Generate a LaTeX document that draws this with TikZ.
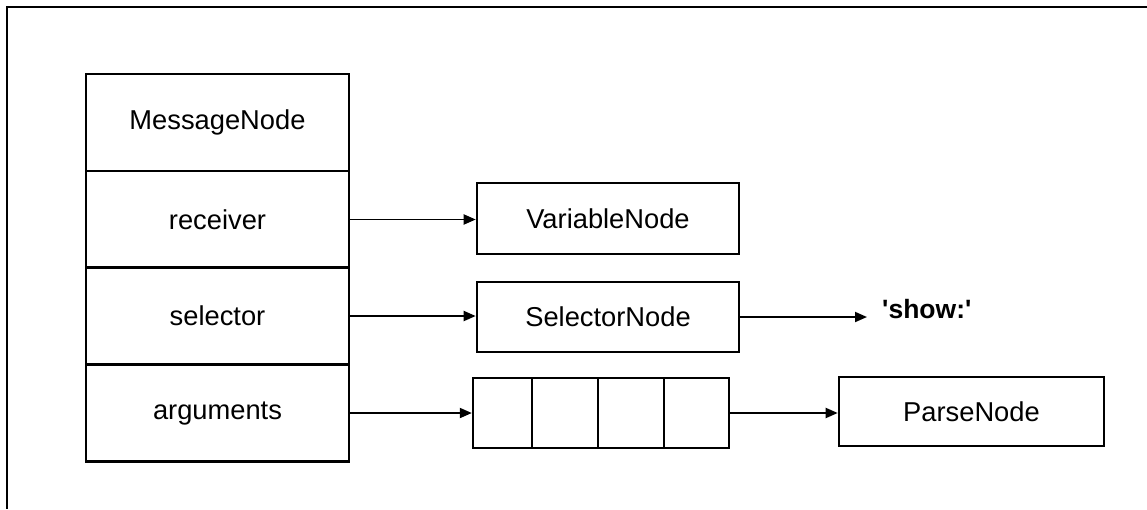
\documentclass[tikz,border=0pt]{standalone}
\usepackage{fontspec}
\setmainfont{Liberation Sans}
% a family without the TeX ligature mapping keeps straight quotes
\newfontfamily\quotefont{Liberation Sans}
\usetikzlibrary{arrows.meta}
\begin{document}
\begin{tikzpicture}[x=1pt,y=-1pt,
  every node/.style={font=\fontsize{27.3}{32}\selectfont},
  cell/.style={draw=black,line width=2.6pt,rectangle,inner sep=0pt,anchor=center},
  row/.style={cell,minimum width=263pt,minimum height=97pt},
  objbox/.style={cell,minimum width=262pt,minimum height=70pt},
  slot/.style={draw=black,line width=2.4pt,rectangle,inner sep=0pt,minimum height=70pt},
  link/.style={line width=1.9pt,-{Triangle[length=12pt,width=10pt]}},
  frameline/.style={line width=2pt}]
\useasboundingbox (0,0) rectangle (1147,509);

% outer frame (top and left edges only)
\coordinate (ftl) at (7,6.5);
\coordinate (ftr) at (1147,6.5);
\coordinate (fbl) at (7,509);
\draw[frameline] (ftr) -- (ftl) -- (fbl);

% MessageNode record
\node[row] (msg) at (217.5,122.5) {MessageNode};
\node[row] (recv) at (217.5,219.5) {receiver};
\node[row] (selr) at (217.5,316) {selector};
\node[row] (args) at (217.5,413) {arguments};

% referenced nodes
\node[objbox,minimum height=71pt] (var) at (608,218.5) {VariableNode};
\node[objbox] (sel) at (608,317) {SelectorNode};
\node[objbox,minimum width=265pt,minimum height=69pt] (parse) at (971.5,411.5) {ParseNode};
\node[inner sep=0pt,anchor=west,font=\fontsize{26.5}{32}\quotefont\bfseries] (show) at (882,309) {'show:'};

% argument array
\node[slot,minimum width=59pt] (a1) at (502.5,413) {};
\node[slot,minimum width=66pt] (a2) at (565,413) {};
\node[slot,minimum width=66pt] (a3) at (631,413) {};
\node[slot,minimum width=65pt] (a4) at (696.5,413) {};

% connectors
\draw[link] (recv.east) -- (recv.east -| var.west);
\draw[link] (selr.east) -- (selr.east -| sel.west);
\draw[link] (args.east) -- (args.east -| a1.west);
\draw[link] (a4.east) -- (a4.east -| parse.west);
\draw[link,shorten >=15pt] (sel.east) -- (sel.east -| show.west);
\end{tikzpicture}
\end{document}
